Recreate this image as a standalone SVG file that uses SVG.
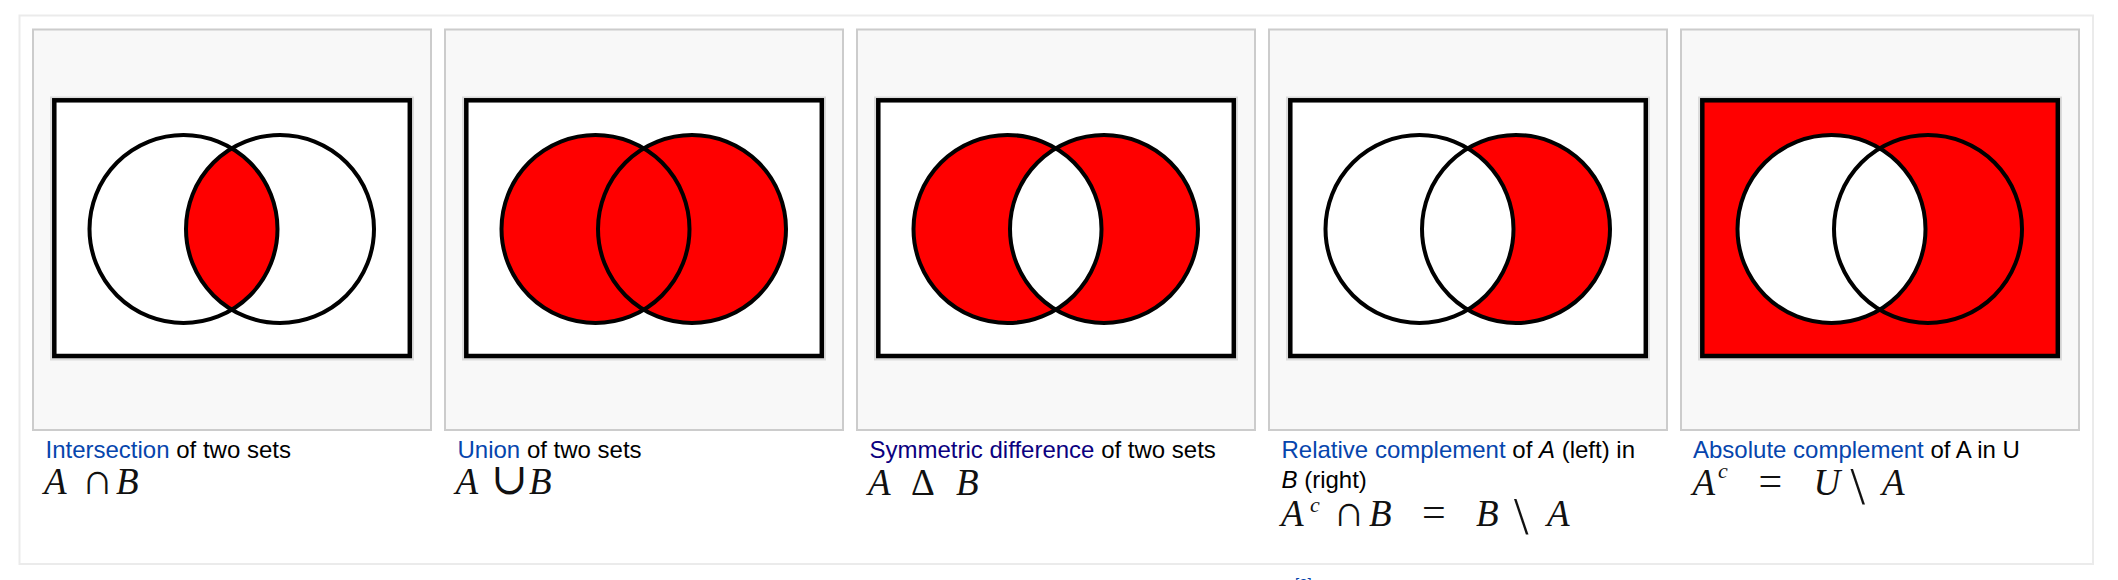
<svg xmlns="http://www.w3.org/2000/svg" width="2118" height="580" viewBox="0 0 2118 580">
<style>
.panel{fill:#f8f8f8;stroke:#cccccc;stroke-width:2}
.frame{fill:#dcdcdc}
.box{stroke:#000;stroke-width:4.5}
.ring{fill:none;stroke:#000;stroke-width:4}
.cap{font-family:"Liberation Sans",Arial,sans-serif;font-size:24px;fill:#000}
.link{fill:#0645ad}
.visited{fill:#0b0080}
.math{font-family:"Liberation Serif","DejaVu Serif",serif;font-size:37px;fill:#111}
.it{font-style:italic}
.op{font-size:44px}
.sup{font-size:22px;font-style:italic}
.eq{font-size:42px}
.bs{font-size:52px}
</style>
<defs>
<clipPath id="clipA"><circle cx="150.5" cy="229" r="94"/></clipPath>
</defs>
<rect x="0" y="0" width="2118" height="580" fill="#ffffff"/>
<rect x="19.5" y="15.5" width="2073.5" height="548.5" fill="#ffffff" stroke="#ebebeb" stroke-width="2"/>

<g id="intersection" transform="translate(33,0)">
<rect class="panel" x="0" y="29.5" width="398" height="400.5"/>
<rect class="frame" x="17" y="96.5" width="364" height="264"/>
<rect class="box" x="21.3" y="100.3" width="355.5" height="255.7" fill="#ffffff"/>
<circle cx="247" cy="229" r="94" fill="#ff0000" clip-path="url(#clipA)"/>
<circle class="ring" cx="150.5" cy="229" r="94"/>
<circle class="ring" cx="247" cy="229" r="94"/>
<text class="cap" x="12.5" y="458"><tspan class="link">Intersection</tspan> of two sets</text>
<text class="math" y="494"><tspan class="it" x="11">A</tspan><tspan class="op" x="48.5">∩</tspan><tspan class="it" x="83">B</tspan></text>
</g>

<g id="union" transform="translate(445,0)">
<rect class="panel" x="0" y="29.5" width="398" height="400.5"/>
<rect class="frame" x="17" y="96.5" width="364" height="264"/>
<rect class="box" x="21.3" y="100.3" width="355.5" height="255.7" fill="#ffffff"/>
<circle cx="150.5" cy="229" r="94" fill="#ff0000"/>
<circle cx="247" cy="229" r="94" fill="#ff0000"/>
<circle class="ring" cx="150.5" cy="229" r="94"/>
<circle class="ring" cx="247" cy="229" r="94"/>
<text class="cap" x="12.5" y="458"><tspan class="link">Union</tspan> of two sets</text>
<text class="math" y="494"><tspan class="it" x="10.5">A</tspan><tspan class="op" x="46">∪</tspan><tspan class="it" x="84">B</tspan></text>
</g>

<g id="symmetric-difference" transform="translate(857,0)">
<rect class="panel" x="0" y="29.5" width="398" height="400.5"/>
<rect class="frame" x="17" y="96.5" width="364" height="264"/>
<rect class="box" x="21.3" y="100.3" width="355.5" height="255.7" fill="#ffffff"/>
<circle cx="150.5" cy="229" r="94" fill="#ff0000"/>
<circle cx="247" cy="229" r="94" fill="#ff0000"/>
<circle cx="247" cy="229" r="94" fill="#ffffff" clip-path="url(#clipA)"/>
<circle class="ring" cx="150.5" cy="229" r="94"/>
<circle class="ring" cx="247" cy="229" r="94"/>
<text class="cap" x="12.5" y="458"><tspan class="visited">Symmetric difference</tspan> of two sets</text>
<text class="math" y="495"><tspan class="it" x="11">A</tspan><tspan x="54">Δ</tspan><tspan class="it" x="99">B</tspan></text>
</g>

<g id="relative-complement" transform="translate(1269,0)">
<rect class="panel" x="0" y="29.5" width="398" height="400.5"/>
<rect class="frame" x="17" y="96.5" width="364" height="264"/>
<rect class="box" x="21.3" y="100.3" width="355.5" height="255.7" fill="#ffffff"/>
<circle cx="247" cy="229" r="94" fill="#ff0000"/>
<circle cx="247" cy="229" r="94" fill="#ffffff" clip-path="url(#clipA)"/>
<circle class="ring" cx="150.5" cy="229" r="94"/>
<circle class="ring" cx="247" cy="229" r="94"/>
<text class="cap" x="12.5" y="458"><tspan class="link">Relative complement</tspan> of <tspan class="it">A</tspan> (left) in</text>
<text class="cap" x="12.5" y="488"><tspan class="it">B</tspan> (right)</text>
<text class="math" y="526"><tspan class="it" x="12">A</tspan><tspan class="sup" x="41" y="512">c</tspan><tspan class="op" x="64" y="526">∩</tspan><tspan class="it" x="100">B</tspan><tspan class="eq" x="153">=</tspan><tspan class="it" x="207">B</tspan><tspan class="bs" x="245" y="534">\</tspan><tspan class="it" x="278" y="526">A</tspan></text>
</g>

<g id="absolute-complement" transform="translate(1681,0)">
<rect class="panel" x="0" y="29.5" width="398" height="400.5"/>
<rect class="frame" x="17" y="96.5" width="364" height="264"/>
<rect class="box" x="21.3" y="100.3" width="355.5" height="255.7" fill="#ff0000"/>
<circle cx="150.5" cy="229" r="94" fill="#ffffff"/>
<circle class="ring" cx="150.5" cy="229" r="94"/>
<circle class="ring" cx="247" cy="229" r="94"/>
<text class="cap" x="12" y="458"><tspan class="link">Absolute complement</tspan> of A in U</text>
<text class="math" y="495"><tspan class="it" x="11.5">A</tspan><tspan class="sup" x="37" y="478">c</tspan><tspan class="eq" x="77.5" y="495">=</tspan><tspan class="it" x="132.5">U</tspan><tspan class="bs" x="169.5" y="504">\</tspan><tspan class="it" x="201" y="495">A</tspan></text>
</g>

<text id="ref" x="1295" y="589" font-family="'Liberation Sans',Arial,sans-serif" font-size="15" fill="#0645ad">[2]</text>
</svg>
